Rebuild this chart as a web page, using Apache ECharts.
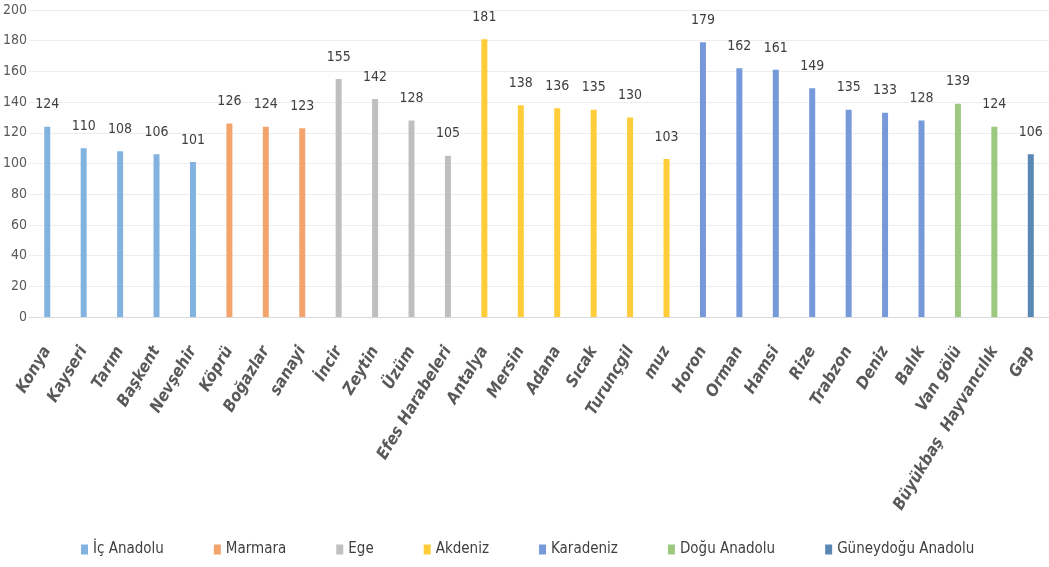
<!DOCTYPE html>
<html>
<head>
<meta charset="utf-8">
<script src="https://cdn.jsdelivr.net/npm/echarts@6/dist/echarts.min.js"></script>
<style>
html,body{margin:0;padding:0;background:#fff;}
#chart{width:1049px;height:567px;}
</style>
</head>
<body>
<div id="chart"></div>
<script>
const categories = ["Konya","Kayseri","Tarım","Başkent","Nevşehir","Köprü","Boğazlar","sanayi","İncir","Zeytin","Üzüm","Efes Harabeleri","Antalya","Mersin","Adana","Sıcak","Turunçgil","muz","Horon","Orman","Hamsi","Rize","Trabzon","Deniz","Balık","Van gölü","Büyükbaş  Hayvancılık","Gap"];
const values = [124,110,108,106,101,126,124,123,155,142,128,105,181,138,136,135,130,103,179,162,161,149,135,133,128,139,124,106];
const regionOf = [0,0,0,0,0,1,1,1,2,2,2,2,3,3,3,3,3,3,4,4,4,4,4,4,4,5,5,6];
const regions = ["İç Anadolu","Marmara","Ege","Akdeniz","Karadeniz","Doğu Anadolu","Güneydoğu Anadolu"];
const colors = ["#82B3E0","#F2A46C","#BFBFBF","#FFCC3A","#7699D9","#9CC97F","#5A88B5"];
const yTicks = [0,20,40,60,80,100,120,140,160,180,200];

const FONT = "'Liberation Sans Narrow','DejaVu Sans Condensed','Arial Narrow',sans-serif";

const series = regions.map((name, r) => ({
  name,
  type: 'bar',
  barWidth: 6,
  barGap: '-100%',
  itemStyle: { color: colors[r] },
  label: {
    show: true, position: 'top', distance: 15,
    color: '#404040', fontFamily: FONT, fontSize: 14
  },
  data: values.map((v, i) => regionOf[i] === r ? v : '-')
}));

const chart = echarts.init(document.getElementById('chart'), null, {renderer: 'canvas'});
chart.setOption({
  animation: false,
  color: colors,
  grid: { left: 28, right: -2, top: 10, bottom: 250, containLabel: false },
  legend: {
    left: 76, top: 537,
    itemWidth: 7, itemHeight: 10, itemGap: 50,
    icon: 'rect',
    textStyle: { color: '#404040', fontFamily: FONT, fontSize: 15 },
    data: regions
  },
  xAxis: {
    type: 'category',
    data: categories,
    axisLine: { lineStyle: { color: '#D9D9D9' } },
    axisTick: { show: false },
    axisLabel: {
      interval: 0, rotate: 59, margin: 31,
      color: '#595959', fontFamily: FONT, fontSize: 16.5,
      fontWeight: 'bold', fontStyle: 'italic'
    }
  },
  yAxis: {
    type: 'value',
    min: yTicks[0], max: yTicks[yTicks.length - 1], interval: 20,
    axisLine: { show: false },
    axisTick: { show: false },
    axisLabel: { color: '#595959', fontFamily: FONT, fontSize: 14, margin: 2 },
    splitLine: { lineStyle: { color: '#EDEDED' } }
  },
  series
});
</script>
</body>
</html>
